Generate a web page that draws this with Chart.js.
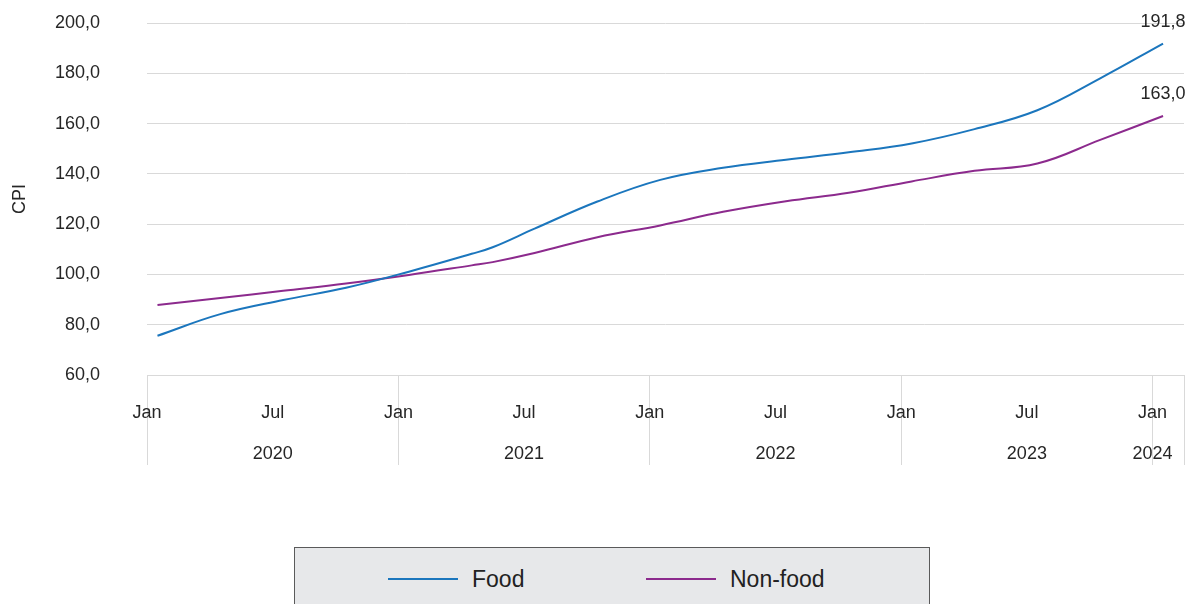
<!DOCTYPE html>
<html>
<head>
<meta charset="utf-8">
<script src="https://cdn.jsdelivr.net/npm/chart.js@4/dist/chart.umd.min.js"></script>
<style>
  html, body { margin: 0; padding: 0; background: #fff; overflow: hidden; }
  #wrap { position: relative; width: 1199px; height: 604px; }
  #cpi-chart { position: absolute; left: 0; top: 0; }
  #legend {
    position: absolute; left: 294px; top: 547px; width: 634px; height: 80px;
    background: #e7e8ea; border: 1px solid #5a5a5a;
    font-family: "Liberation Sans", Arial, sans-serif; font-size: 23px; color: #222;
  }
  #legend .item { position: absolute; top: 17px; height: 28px; display: flex; align-items: center; }
  #legend .swatch { width: 70px; height: 2px; margin-right: 14px; }
</style>
</head>
<body>
<div id="wrap">
  <canvas id="cpi-chart" width="1199" height="480"></canvas>
  <div id="legend"></div>
</div>
<script>
// CPI index, months counted from Jan 2020
let months = [0, 3, 6, 9, 12, 15, 16, 18, 21, 24, 27, 30, 33, 36, 39, 42, 45, 48];
let food = [75.6, 84.2, 89.8, 94.7, 101.1, 108.2, 110.8, 118.2, 129.0, 137.6, 142.4, 145.6, 148.6, 152.1, 157.8, 165.3, 178.0, 191.8];
let nonFood = [87.8, 90.6, 93.5, 96.4, 99.8, 103.6, 104.9, 108.5, 114.8, 119.5, 124.9, 129.1, 132.5, 137.0, 141.2, 144.1, 153.5, 163.0];

let seriesNames = ["Food", "Non-food"];
let seriesColors = ["#1b76bd", "#8c2a8d"];

// axis labels: half-year boundaries and years
let halfYearTicks = [-0.5, 5.5, 11.5, 17.5, 23.5, 29.5, 35.5, 41.5, 47.5, 49];
let yearTicks = [5.5, 17.5, 29.5, 41.5, 47.5];
let yearLabels = ["2020", "2021", "2022", "2023", "2024"];

let textColor = "#262626";
let gridColor = "#d9d9d9";
let fontFamily = "'Liberation Sans', Arial, sans-serif";

function comma(v) {
    return v.toFixed(1).replace(".", ",");
}

function points(values) {
    return months.map((m, i) => ({ x: m, y: values[i] }));
}

// value label at the end of each line
let endLabels = {
    id: "endLabels",
    afterDatasetsDraw(chart) {
        let ctx = chart.ctx;
        ctx.save();
        ctx.font = "18px " + fontFamily;
        ctx.fillStyle = textColor;
        ctx.textAlign = "center";
        ctx.textBaseline = "middle";
        chart.data.datasets.forEach((ds, i) => {
            let meta = chart.getDatasetMeta(i);
            let last = meta.data[meta.data.length - 1];
            let value = ds.data[ds.data.length - 1].y;
            ctx.fillText(comma(value), last.x, last.y - 22);
        });
        ctx.restore();
    }
};

let Data = {
    datasets: [
        {
            label: seriesNames[0],
            data: points(food),
            borderColor: seriesColors[0],
            backgroundColor: seriesColors[0],
            borderWidth: 2,
            pointRadius: 0,
            tension: 0.4
        },
        {
            label: seriesNames[1],
            data: points(nonFood),
            borderColor: seriesColors[1],
            backgroundColor: seriesColors[1],
            borderWidth: 2,
            pointRadius: 0,
            tension: 0.4
        }
    ]
};

let Options = {
    responsive: false,
    maintainAspectRatio: false,
    animation: false,
    layout: {
        padding: { top: 23, right: 15, left: 0, bottom: 15 }
    },
    plugins: {
        legend: { display: false },
        tooltip: { enabled: false }
    },
    scales: {
        x: {
            type: "linear",
            position: "bottom",
            weight: 0,
            min: -0.5,
            max: 49,
            afterBuildTicks: (scale) => {
                scale.ticks = halfYearTicks.map(v => ({ value: v }));
            },
            afterFit: (scale) => { scale.height = 48; },
            ticks: {
                autoSkip: false,
                maxRotation: 0,
                padding: -63,
                color: textColor,
                font: { size: 18, family: fontFamily },
                callback: (v) => {
                    if (v === 49) return "";
                    return ((v + 0.5) % 12 === 0) ? "Jan" : "Jul";
                }
            },
            grid: {
                drawOnChartArea: false,
                tickLength: 90,
                lineWidth: 1,
                color: (c) => {
                    let v = c.tick ? c.tick.value : 0;
                    return ((v + 0.5) % 12 === 0 || v === 49) ? gridColor : "transparent";
                }
            },
            border: { display: true, color: gridColor }
        },
        x2: {
            type: "linear",
            position: "bottom",
            weight: 1,
            min: -0.5,
            max: 49,
            afterBuildTicks: (scale) => {
                scale.ticks = yearTicks.map(v => ({ value: v }));
            },
            afterFit: (scale) => { scale.height = 42; },
            ticks: {
                autoSkip: false,
                maxRotation: 0,
                padding: 20,
                color: textColor,
                font: { size: 18, family: fontFamily },
                callback: (v) => yearLabels[yearTicks.indexOf(v)]
            },
            grid: { display: false, drawTicks: false },
            border: { display: false }
        },
        y: {
            min: 60,
            max: 200,
            afterFit: (scale) => { scale.width = 147; },
            ticks: {
                stepSize: 20,
                padding: 0,
                color: textColor,
                font: { size: 18, family: fontFamily },
                callback: (v) => comma(v)
            },
            // invisible tick marks keep the labels clear of the plot
            grid: { color: gridColor, drawTicks: true, tickLength: 47, tickColor: "transparent" },
            border: { display: false },
            title: {
                display: true,
                text: "CPI",
                color: textColor,
                padding: { top: 9, bottom: 0 },
                font: { size: 18, family: fontFamily }
            }
        }
    }
};

let chart = document.querySelector("#cpi-chart");
let cpiChart = new Chart(chart, {
    type: "line",
    data: Data,
    options: Options,
    plugins: [endLabels]
});

// legend box under the chart
let legend = document.querySelector("#legend");
let itemLeft = [93, 351];
Data.datasets.forEach((ds, i) => {
    let item = document.createElement("div");
    item.className = "item";
    item.style.left = itemLeft[i] + "px";
    let swatch = document.createElement("span");
    swatch.className = "swatch";
    swatch.style.background = ds.borderColor;
    let label = document.createElement("span");
    label.textContent = ds.label;
    item.appendChild(swatch);
    item.appendChild(label);
    legend.appendChild(item);
});
</script>
</body>
</html>
